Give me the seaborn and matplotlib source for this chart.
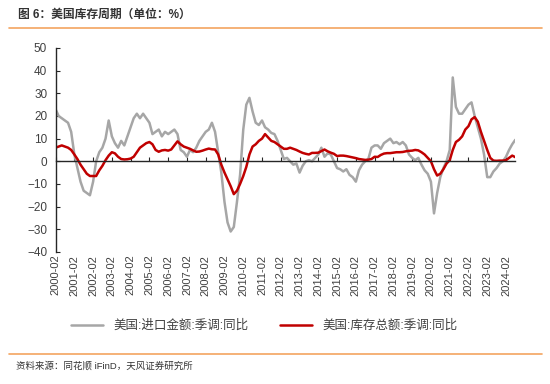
import matplotlib
matplotlib.use("Agg")
import matplotlib.pyplot as plt
import matplotlib.dates as mdates
from matplotlib.lines import Line2D
import seaborn as sns
import pandas as pd

# ---------------- data ----------------
dates = pd.date_range("2000-02-01", "2024-08-01", freq="2MS")

import_yoy = [
    23, 20, 19, 18, 17, 13,            # 2000
    3, -3, -9, -13, -14, -15,          # 2001
    -9, 0, 4, 6, 10, 18,               # 2002
    11, 8, 6, 9, 7, 11,                # 2003
    15, 19, 21, 19, 21, 19,            # 2004
    17, 12, 13, 14, 11, 13,            # 2005
    12, 13, 14, 12, 5, 4,              # 2006
    2, 5, 4, 6, 9, 11,                 # 2007
    13, 14, 17, 13, 4, -5,             # 2008
    -18, -27, -31, -29, -18, -6,       # 2009
    14, 25, 28, 22, 17, 16,            # 2010
    18, 15, 14, 12.5, 12, 9,           # 2011
    5, 1, 1.5, 0, -1.5, -1,            # 2012
    -5, -2, 0, 0.5, 0, 1.5,            # 2013
    3, 6, 2, 3.5, 3, 0,                # 2014
    -3, -3.5, -4.5, -3.5, -6, -7,      # 2015
    -9, -4, -1.5, 0, 1, 6,             # 2016
    7, 7, 5.5, 8, 9, 10,               # 2017
    8, 8.5, 7.5, 8.5, 7, 3,            # 2018
    1.5, 0.5, 1.5, -1.5, -4, -5.5,     # 2019
    -9, -23, -14, -7, -3, 0,           # 2020
    5, 37, 24, 21, 21, 23,             # 2021
    25, 26, 20, 15, 10, 3,             # 2022
    -7, -7, -4.5, -3, -1, 0,           # 2023
    2, 5, 7.5, 9.5,                    # 2024
]

inventory_yoy = [
    6, 6.5, 7, 6.5, 6, 5,              # 2000
    3, 1, -1.5, -3.5, -5.5, -6.5,      # 2001
    -6.5, -6.5, -4, -2, 0.5, 2.5,      # 2002
    4, 3.5, 2, 1, 0.8, 0.9,            # 2003
    1.2, 2, 4, 6, 7, 8,                # 2004
    8.5, 7.5, 5, 4.2, 4.8, 5,          # 2005
    4.7, 5.2, 7, 8.8, 7.5, 6.5,        # 2006
    6, 5.5, 4.8, 4.2, 4.3, 4.7,        # 2007
    5.2, 5.6, 5.3, 5.2, 3, -1.5,       # 2008
    -5, -8, -11, -14.5, -13, -10,      # 2009
    -6.5, -2.5, 3, 6.5, 7.5, 9,        # 2010
    10, 12, 10.5, 9, 8.5, 7.5,         # 2011
    6.5, 5.5, 5.5, 6, 5.5, 5,          # 2012
    4.3, 3.7, 3.3, 3, 3.7, 3.7,        # 2013
    3.8, 4.5, 5.2, 4.4, 3.8, 3.3,      # 2014
    2.3, 2.5, 2.5, 2.3, 2, 1.7,        # 2015
    1.4, 1, 0.8, 0.6, 0.7, 1,          # 2016
    2, 1.9, 2.8, 3.4, 3.6, 3.6,        # 2017
    3.8, 4, 4, 4.1, 4.4, 4.6,          # 2018
    4.7, 5, 4.8, 4, 3, 1.5,            # 2019
    0, -3.5, -6.3, -5.5, -3.5, -1,     # 2020
    0.5, 5, 8.5, 9.5, 11, 14,          # 2021
    15.5, 18.5, 19.5, 17.5, 13, 9,     # 2022
    5, 1.5, 0.3, 0.2, 0.3, 0.3,        # 2023
    0.5, 1.5, 2.5, 1.8,                # 2024
]

tick_dates = pd.date_range("2000-02-01", "2024-02-01", freq="12MS")
tick_labels = [d.strftime("%Y-%m") for d in tick_dates]
y_ticks = list(range(-40, 51, 10))

label_import = "美国:进口金额:季调:同比"
label_inv = "美国:库存总额:季调:同比"
title = "图 6：美国库存周期（单位：%）"
source = "资料来源：同花顺 iFinD，天风证券研究所"

# ---------------- style ----------------
sns.set_style("ticks")
plt.rcParams["font.family"] = ["Liberation Sans", "Noto Sans CJK SC", "DejaVu Sans"]
plt.rcParams["axes.unicode_minus"] = True

fig = plt.figure(figsize=(5.5, 3.84), dpi=100)
ax = fig.add_axes([0.101, 0.344, 0.836, 0.531])

df = pd.DataFrame({"date": dates, "imp": import_yoy, "inv": inventory_yoy})
sns.lineplot(data=df, x="date", y="imp", ax=ax, color="#A6A6A6", lw=1.8,
             label=label_import)
sns.lineplot(data=df, x="date", y="inv", ax=ax, color="#C00000", lw=1.8,
             label=label_inv)

ax.set_xlim(dates[0], dates[-1])
ax.set_ylim(-40, 50)
ax.set_yticks(y_ticks)
ax.set_xlabel("")
ax.set_ylabel("")

for s in ["top", "right"]:
    ax.spines[s].set_visible(False)
ax.spines["bottom"].set_position(("data", 0))
ax.spines["left"].set_linewidth(1.0)
ax.spines["bottom"].set_linewidth(1.0)

tick_nums = mdates.date2num(tick_dates)
ax.set_xticks(tick_nums)
ax.tick_params(axis="x", direction="in", length=3, labelbottom=False)
ax.tick_params(axis="y", direction="in", length=3, labelsize=8.5,
               labelcolor="#404040", pad=6)

sec = ax.secondary_xaxis(0)
sec.set_xticks(tick_nums, labels=tick_labels)
sec.tick_params(length=0, rotation=90, labelsize=8, labelcolor="#404040", pad=2)
sec.spines["bottom"].set_visible(False)

ax.get_legend().remove()
handles, labels = ax.get_legend_handles_labels()
fig.legend(handles, labels, loc="center", bbox_to_anchor=(0.48, 0.151), ncol=2,
           frameon=False, fontsize=9, handlelength=2.6, columnspacing=2.5,
           labelcolor="#404040")

fig.text(0.033, 0.961, title, fontsize=8.5, fontweight="bold", color="#333333",
         va="center", ha="left")
fig.add_artist(Line2D([0.017, 0.985], [0.927, 0.927], color="#F4A460", lw=1.2))
fig.add_artist(Line2D([0.017, 0.985], [0.079, 0.079], color="#F4A460", lw=1.2))
fig.text(0.03, 0.047, source, fontsize=6.8, color="#333333", va="center", ha="left")

fig.savefig("out.png", dpi=100)
